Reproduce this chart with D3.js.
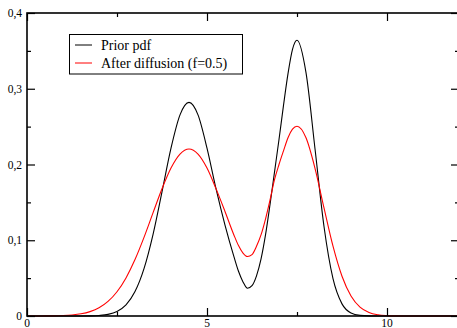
<!DOCTYPE html>
<html>
<head>
<meta charset="utf-8">
<script src="https://cdn.jsdelivr.net/npm/d3@7"></script>
<style>
html,body{margin:0;padding:0;background:#fff;}
svg{display:block;}
text{font-family:"Liberation Serif","DejaVu Serif",serif;fill:#000;}
</style>
</head>
<body>
<svg id="chart" width="457" height="328"></svg>
<script>
const xValues = [0,0.25,0.5,0.75,1,1.25,1.5,1.75,2,2.25,2.5,2.75,3,3.25,3.5,3.75,4,4.25,4.5,4.75,5,5.25,5.5,5.75,5.875,6,6.125,6.25,6.375,6.5,6.625,6.75,6.875,7,7.125,7.25,7.375,7.5,7.75,8,8.25,8.5,8.75,9,9.25,9.5,9.75,10,10.25,10.5,10.75,11,11.25,11.5,11.75,12];
const priorPdf = [0,0,0,0,0,0.00001,0.00005,0.0002,0.0007,0.0021,0.0060,0.0147,0.0322,0.0625,0.1075,0.1639,0.2216,0.2655,0.2820,0.2655,0.2216,0.1680,0.1200,0.0780,0.0590,0.0450,0.0366,0.0400,0.0530,0.0750,0.1070,0.1470,0.1900,0.2330,0.2780,0.3200,0.3520,0.3640,0.3212,0.2208,0.1182,0.0493,0.0160,0.0040,0.0008,0.0001,0,0,0,0,0,0,0,0,0,0];
const afterDiffusion = [0,0,0.0001,0.0002,0.0006,0.0014,0.0029,0.0058,0.0108,0.0192,0.0320,0.0503,0.0745,0.1038,0.1361,0.1680,0.1954,0.2138,0.2204,0.2138,0.1954,0.1681,0.1380,0.1067,0.0930,0.0830,0.0785,0.0810,0.0920,0.1070,0.1280,0.1530,0.1800,0.2000,0.2180,0.2353,0.2466,0.2504,0.2352,0.1950,0.1427,0.0921,0.0525,0.0264,0.0117,0.0046,0.0016,0.0005,0.0001,0,0,0,0,0,0,0];
const seriesNames = ["Prior pdf","After diffusion (f=0.5)"];
const seriesColors = ["#000000","#ff0000"];
const xMajorTicks = [0,5,10];
const xMinorTicks = [2.5,7.5];
const yMajorTicks = [0,0.1,0.2,0.3,0.4];
const yMinorTicks = [0.05,0.15,0.25,0.35];
const yTickLabels = ["0","0,1","0,2","0,3","0,4"];

(function(){
const svg = d3.select("#chart");
svg.append("rect").attr("width",457).attr("height",328).attr("fill","#fff");

const L = 27, R = 459, T = 13, B = 316;
const x = d3.scaleLinear().domain([0,12]).range([L,R]);
const y = d3.scaleLinear().domain([0,0.4]).range([B,T]);

const g = svg.append("g");

// curves
const series = [priorPdf, afterDiffusion];
const line = d3.line().x((d,i)=>x(xValues[i])).y(d=>y(d)).curve(d3.curveMonotoneX);
series.forEach((s,k)=>{
  g.append("path").datum(s).attr("d",line)
    .attr("fill","none").attr("stroke",seriesColors[k]).attr("stroke-width",1.1);
});

// axes (ticks inward, on all sides)
const major = 8, minor = 4;
const axBottom = d3.axisTop(x).tickValues(xMajorTicks).tickSize(major).tickFormat("");
const axBottomMinor = d3.axisTop(x).tickValues(xMinorTicks).tickSize(minor).tickFormat("");
const axTop = d3.axisBottom(x).tickValues(xMajorTicks).tickSize(major).tickFormat("");
const axTopMinor = d3.axisBottom(x).tickValues(xMinorTicks).tickSize(minor).tickFormat("");
const axLeft = d3.axisRight(y).tickValues(yMajorTicks).tickSize(major).tickFormat("");
const axLeftMinor = d3.axisRight(y).tickValues(yMinorTicks).tickSize(minor).tickFormat("");
const axRight = d3.axisLeft(y).tickValues(yMajorTicks).tickSize(major).tickFormat("");
const axRightMinor = d3.axisLeft(y).tickValues(yMinorTicks).tickSize(minor).tickFormat("");

function addAxis(ax, tr){
  const a = g.append("g").attr("transform",tr).call(ax);
  a.select(".domain").remove();
  a.selectAll("line").attr("stroke","#000").attr("stroke-width",1.2);
}
addAxis(axBottom,`translate(0,${B})`);
addAxis(axBottomMinor,`translate(0,${B})`);
addAxis(axTop,`translate(0,${T})`);
addAxis(axTopMinor,`translate(0,${T})`);
addAxis(axLeft,`translate(${L},0)`);
addAxis(axLeftMinor,`translate(${L},0)`);
addAxis(axRight,`translate(${R},0)`);
addAxis(axRightMinor,`translate(${R},0)`);

// frame
g.append("rect").attr("x",L).attr("y",T).attr("width",R-L).attr("height",B-T)
  .attr("fill","none").attr("stroke","#000").attr("stroke-width",1.6);

// tick labels
g.selectAll(".ylab").data(yMajorTicks).enter().append("text")
  .attr("x",L-5).attr("y",d=>y(d)+4).attr("text-anchor","end")
  .attr("font-size",11.5).text((d,i)=>yTickLabels[i]);
g.selectAll(".xlab").data(xMajorTicks).enter().append("text")
  .attr("x",d=>x(d)).attr("y",B+11).attr("text-anchor","middle")
  .attr("font-size",11.5).text(d=>d3.format("d")(d));

// legend
const lg = g.append("g");
lg.append("rect").attr("x",69.5).attr("y",34.5).attr("width",173).attr("height",39.5)
  .attr("fill","#fff").attr("stroke","#000").attr("stroke-width",1);
seriesNames.forEach((n,k)=>{
  const yy = 45 + k*18;
  lg.append("line").attr("x1",75).attr("x2",92).attr("y1",yy).attr("y2",yy)
    .attr("stroke",seriesColors[k]).attr("stroke-width",1);
  lg.append("text").attr("x",101).attr("y",yy+4.7).attr("font-size",14).text(n);
});
})();
</script>
</body>
</html>
